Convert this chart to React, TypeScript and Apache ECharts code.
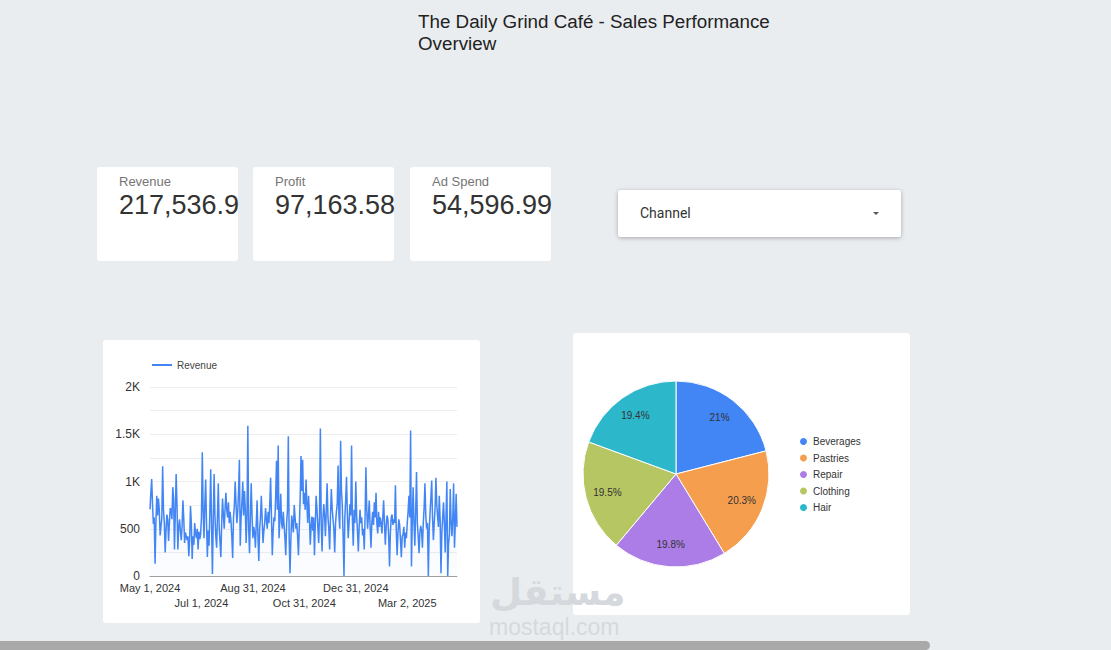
import React, { useEffect, useRef } from "react";
import * as echarts from "echarts";

const TITLE = "The Daily Grind Café - Sales Performance\nOverview";

const kpiLabels = ["Revenue", "Profit", "Ad Spend"];
const kpiValues = ["217,536.9", "97,163.58", "54,596.99"];

const startDate = [2024, 4, 1];
const MONTHS = ["Jan", "Feb", "Mar", "Apr", "May", "Jun", "Jul", "Aug", "Sep", "Oct", "Nov", "Dec"];

const revenue = [
  705, 880, 1025, 760, 550, 620, 130, 560, 850, 640,
  820, 700, 430, 520, 610, 1160, 700, 560, 250, 480,
  650, 600, 370, 560, 720, 700, 600, 940, 820, 280,
  660, 1080, 760, 280, 520, 600, 480, 380, 520, 800,
  620, 350, 460, 420, 380, 420, 210, 380, 740, 560,
  180, 420, 330, 560, 450, 400, 500, 280, 470, 390,
  440,
  620, 1310, 700, 400, 760, 1020, 560, 200, 480, 320,
  700, 1130, 540, 20, 600, 1080, 640, 420, 300, 640,
  980, 520, 360, 200, 560, 820, 640, 500, 720, 880,
  700, 620, 780, 560, 680, 580, 420, 190, 620, 740,
  1000, 760, 560, 680, 900, 1230, 320, 620, 780, 1000,
  640, 900, 700, 350, 660, 1590, 500, 240, 620, 980,
  640,
  400, 520, 460, 300, 560, 800, 420, 160, 500, 620,
  850, 600, 350, 480, 560, 720, 600, 500, 680, 560,
  760, 1040, 640, 220, 480, 620, 580, 840, 1220, 700,
  1380, 400, 620, 870, 560, 500, 680, 540, 400, 220,
  560, 700, 1480, 400, 30, 380, 640, 560, 460, 750,
  620, 500, 560, 420, 220, 520, 800, 1270, 900, 1230,
  760,
  880, 700, 1020, 760, 560, 850, 640, 330, 520, 630,
  480, 620, 220, 560, 850, 700, 520, 350, 640, 1560,
  560, 260, 600, 760, 640, 420, 700, 980, 620, 500,
  280, 640, 920, 720, 600, 500, 250, 560, 680, 760,
  1170, 640, 500, 1430, 900, 750, 420, 0, 620, 800,
  1050, 660, 400, 560, 760, 640, 1380, 600, 320, 700,
  560,
  1000, 640, 480, 260, 520, 700, 560, 620, 430, 500,
  280, 620, 1150, 700, 500, 640, 800, 520, 300, 560,
  680, 540, 780, 620, 880, 560, 450, 680, 520, 620,
  560, 450, 620, 800, 560, 330, 520, 640, 600, 420,
  100, 460, 620, 650, 540, 600, 560, 960, 480, 220,
  460, 600, 540, 380, 200, 420, 440, 520, 300, 460,
  400,
  560, 680, 850, 620, 1540, 100, 600, 940, 560, 320,
  680, 1100, 560, 420, 240, 460, 530, 480, 300, 560,
  720, 980, 640, 500, 560, 0, 480, 660, 820, 1010,
  620, 380, 560, 720, 1040, 760, 630, 520, 850, 600,
  30, 460, 620, 780, 560, 250, 640, 1000, 0, 340,
  440, 920, 560, 420, 620, 980, 300, 560, 870, 520,
];

const channels = ["Beverages", "Pastries", "Repair", "Clothing", "Hair"];
const channelShare = [21.0, 20.3, 19.8, 19.5, 19.4];
const channelColors = ["#4285F4", "#F59E4E", "#AC7DE6", "#B6C662", "#2DB7CB"];

function buildDates(n: number): string[] {
  const out: string[] = [];
  const d0 = Date.UTC(startDate[0], startDate[1], startDate[2]);
  for (let i = 0; i < n; i++) {
    const d = new Date(d0 + i * 86400000);
    out.push(`${MONTHS[d.getUTCMonth()]} ${d.getUTCDate()}, ${d.getUTCFullYear()}`);
  }
  return out;
}

const FONT = "'Liberation Sans', Arial, sans-serif";

export default function App() {
  const ref = useRef<HTMLDivElement>(null);
  useEffect(() => {
    if (!ref.current) return;
    const chart = echarts.init(ref.current, null, { renderer: "svg" });
    const dates = buildDates(revenue.length);

    const cardX = [97, 253, 410];
    const graphic: any[] = [
      { type: "rect", shape: { x: 103, y: 340, width: 377, height: 283, r: 3 }, style: { fill: "#ffffff" }, z: -10 },
      { type: "rect", shape: { x: 573, y: 333, width: 337, height: 282, r: 3 }, style: { fill: "#ffffff" }, z: -10 },
      {
        type: "text", x: 418, y: 10,
        style: { text: TITLE, fill: "#222222", font: `18.8px ${FONT}`, lineHeight: 22 },
      },
      {
        type: "rect", shape: { x: 618, y: 190, width: 283, height: 47, r: 3 },
        style: { fill: "#ffffff", shadowBlur: 4, shadowOffsetY: 1, shadowColor: "rgba(0,0,0,0.3)" },
      },
      { type: "text", x: 640, y: 213, style: { text: "Channel", fill: "#333333", font: "14px Roboto, sans-serif", verticalAlign: "middle" } },
      { type: "polygon", shape: { points: [[873, 212], [879, 212], [876, 215]] }, style: { fill: "#555555" } },
      {
        type: "text", x: 490, y: 574,
        style: { text: "مستقل", fill: "#d5d9dd", font: "bold 37px 'DejaVu Sans', sans-serif" },
        z: 50,
      },
      {
        type: "text", x: 489, y: 615,
        style: { text: "mostaql.com", fill: "#d5d9dd", font: "23px 'Liberation Sans', Arial, sans-serif" },
        z: 50,
      },
      { type: "rect", shape: { x: 0, y: 641, width: 930, height: 9, r: [0, 5, 5, 0] }, style: { fill: "#a9a9a9" }, z: 60 },
    ];
    kpiLabels.forEach((lab, i) => {
      graphic.push({ type: "rect", shape: { x: cardX[i], y: 167, width: 141, height: 94, r: 3 }, style: { fill: "#ffffff" } });
      graphic.push({ type: "text", x: cardX[i] + 22, y: 175, style: { text: lab, fill: "#757575", font: `13px ${FONT}` } });
      graphic.push({
        type: "text", x: cardX[i] + 22, y: 191,
        style: { text: kpiValues[i], fill: "#333333", font: `27px ${FONT}` },
      });
    });

    const xLabelBase = {
      color: "#333333", fontSize: 11, showMinLabel: true, showMaxLabel: true, hideOverlap: false,
    };

    const option: any = {
      animation: false,
      backgroundColor: "#eaedf0",
      textStyle: { fontFamily: FONT },
      graphic,
      legend: [
        {
          data: [{ name: "Revenue", icon: "rect" }],
          left: 152, top: 360, padding: 0, itemWidth: 20, itemHeight: 2, itemGap: 5,
          textStyle: { fontSize: 10, color: "#444444" },
        },
        {
          data: channels, orient: "vertical", left: 798, top: 436, padding: 0,
          icon: "circle", itemWidth: 9, itemHeight: 9, itemGap: 5.5,
          textStyle: { fontSize: 10, color: "#333333", lineHeight: 10 },
        },
      ],
      grid: { left: 150, top: 387, width: 307, height: 189, containLabel: false },
      xAxis: [
        {
          type: "category", data: dates, boundaryGap: false,
          axisLine: { lineStyle: { color: "#9e9e9e" } },
          axisTick: { show: false },
          axisLabel: { ...xLabelBase, margin: 6, interval: (i: number) => i % 122 === 0 },
        },
        {
          type: "category", data: dates, boundaryGap: false, position: "bottom",
          axisLine: { show: false }, axisTick: { show: false }, splitLine: { show: false },
          axisLabel: { ...xLabelBase, margin: 21, interval: (i: number) => i % 122 === 61 },
        },
      ],
      yAxis: {
        type: "value", min: 0, max: 2000, interval: 250,
        axisLine: { show: false }, axisTick: { show: false },
        splitLine: { lineStyle: { color: "#eeeeee" } },
        axisLabel: {
          color: "#333333", fontSize: 12, margin: 10,
          formatter: (v: number) => (v % 500 !== 0 ? "" : v >= 1000 ? `${v / 1000}K` : `${v}`),
        },
      },
      series: [
        {
          name: "Revenue", type: "line", data: revenue, showSymbol: false,
          lineStyle: { color: "#4285F4", width: 1.5 }, itemStyle: { color: "#4285F4" },
          areaStyle: {
            color: new echarts.graphic.LinearGradient(0, 0, 0, 1, [
              { offset: 0, color: "rgba(66,133,244,0.10)" },
              { offset: 1, color: "rgba(66,133,244,0.03)" },
            ]),
          },
        },
        {
          name: "Channel", type: "pie", center: [676, 474], radius: 93, startAngle: 90,
          percentPrecision: 1,
          data: channels.map((n, i) => ({ name: n, value: channelShare[i], itemStyle: { color: channelColors[i] } })),
          label: { show: false }, labelLine: { show: false },
          itemStyle: { borderColor: "#ffffff", borderWidth: 1 },
          emphasis: { scale: false },
        },
        {
          name: "ChannelLabels", type: "pie", center: [676, 474], radius: 136, startAngle: 90,
          percentPrecision: 1, silent: true, legendHoverLink: false,
          data: channels.map((n, i) => ({ name: n, value: channelShare[i] })),
          itemStyle: { color: "rgba(0,0,0,0)" },
          label: { show: true, position: "inside", formatter: "{d}%", fontSize: 10, color: "#333333" },
          labelLine: { show: false },
          emphasis: { disabled: true },
        },
      ],
    };
    chart.setOption(option);
    return () => chart.dispose();
  }, []);
  return <div ref={ref} style={{ position: "absolute", left: 0, top: 0, width: 1111, height: 650 }} />;
}
